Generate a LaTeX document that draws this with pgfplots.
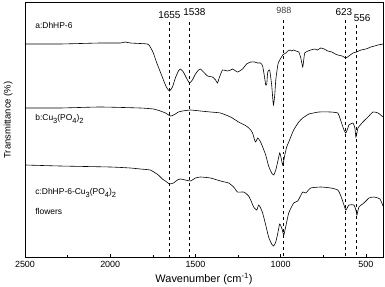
\documentclass[border=0pt]{standalone}
\usepackage{fontspec}
\setmainfont{Liberation Sans}
\usepackage{pgfplots}
\pgfplotsset{compat=1.18}
\newcommand\sub[1]{\raisebox{-0.3em}{\fontsize{7.5}{8}\selectfont #1}}
\begin{document}
\begin{tikzpicture}
\begin{axis}[
 at={(0,0)}, anchor=south west,
 scale only axis, width=358bp, height=255bp,
 x dir=reverse, xmin=400, xmax=2500,
 y dir=reverse, ymin=2, ymax=257,
 xtick={500,1000,1500,2000,2500}, minor xtick={750,1250,1750,2250},
 ytick=\empty,
 xtick pos=lower,
 tick align=inside,
 major tick length=3bp, minor tick length=2bp,
 tick style={black, line width=0.5pt},
 axis line style={line width=0.6pt},
 ticklabel style={font=\fontsize{9}{10}\selectfont},
 xticklabel style={yshift=-1bp},
 /pgf/number format/assume math mode=true,
 /pgf/number format/1000 sep={},
 xlabel={Wavenumber (cm\textsuperscript{-1})},
 xlabel style={font=\fontsize{11}{13}\selectfont, yshift=1bp},
 ylabel={Transmittance (\%)},
 ylabel style={font=\fontsize{9.5}{11}\selectfont, at={(axis description cs:-0.047,0.537)}, anchor=center},
 every axis plot/.append style={line width=0.6pt, black},
]
% curve a
\addplot[smooth, tension=0.3] coordinates {
(2500,44)(2294,44)(2059,43)(1941,43)(1912,42)(1882,43)(1782,44)(1765,47)(1747,53)(1729,62)(1706,72)(1688,80)(1671,87)(1653,91)(1635,87)(1618,78)(1600,71)(1588,69)(1571,72)(1553,78)(1535,83)(1518,80)(1500,74)(1482,70)(1471,69)(1453,72)(1429,76)(1400,77)(1382,80)(1371,83)(1359,77)(1341,70)(1312,71)(1294,70)(1282,69)(1253,72)(1224,69)(1200,64)(1176,62)(1153,62)(1135,63)(1118,63)(1106,66)(1094,78)(1088,85)(1082,84)(1076,72)(1065,70)(1053,85)(1043,105)(1035,95)(1029,80)(1018,66)(1012,62)(988,55)(970,53)(959,51)(945,50)(935,51)(924,50)(910,51)(894,52)(882,58)(871,67)(865,60)(859,53)(840,51)(824,50)(800,49)(785,50)(765,48)(745,49)(724,51)(700,52)(680,54)(665,55)(640,56)(618,58)(600,56)(576,53)(555,52)(529,50)(500,49)(471,47)(450,46)(429,45)(400,44)
};
% curve b
\addplot[smooth, tension=0.3] coordinates {
(2500,108)(2294,108)(2059,107)(1824,108)(1747,109)(1706,111)(1676,113)(1647,116)(1629,115)(1618,114)(1600,112)(1576,111)(1529,110)(1471,111)(1412,112)(1353,113)(1294,117)(1247,122)(1212,125)(1194,127)(1176,130)(1165,133)(1153,140)(1147,142)(1135,138)(1129,139)(1118,142)(1106,147)(1088,155)(1071,166)(1053,173)(1041,175)(1029,170)(1018,162)(1006,153)(1000,156)(988,165)(976,155)(965,147)(953,142)(924,130)(894,122)(871,118)(853,116)(835,114)(776,112)(706,112)(665,113)(653,118)(641,124)(629,130)(618,133)(606,128)(600,125)(576,123)(565,128)(559,137)(553,133)(547,128)(518,122)(488,117)(459,112)(429,113)(400,117)
};
% curve c
\addplot[smooth, tension=0.3] coordinates {
(2500,165)(2294,166)(2000,167)(1882,168)(1824,169)(1765,170)(1735,173)(1718,175)(1694,179)(1676,181)(1653,184)(1629,183)(1606,180)(1588,179)(1559,180)(1529,181)(1500,178)(1471,177)(1412,178)(1353,181)(1306,183)(1276,187)(1253,192)(1218,192)(1200,194)(1188,196)(1171,202)(1159,207)(1141,210)(1129,205)(1118,208)(1106,213)(1088,225)(1071,237)(1053,244)(1041,246)(1029,242)(1018,234)(1006,224)(994,228)(982,235)(971,227)(953,213)(924,203)(900,201)(871,192)(853,193)(824,188)(765,187)(706,188)(665,190)(647,196)(635,202)(618,210)(600,205)(571,205)(559,210)(553,215)(541,207)(512,203)(482,198)(453,197)(418,199)(400,206)
};
% dashed guide lines
\addplot[dashed, line width=0.5pt] coordinates {(1655,22)(1655,257)};
\addplot[dashed, line width=0.5pt] coordinates {(1538,22)(1538,257)};
\addplot[dashed, line width=0.5pt] coordinates {(988,20)(988,257)};
\addplot[dashed, line width=0.5pt] coordinates {(623,20)(623,257)};
\addplot[dashed, line width=0.5pt] coordinates {(556,25)(556,257)};
% peak labels
\node[font=\fontsize{10}{12}\selectfont] at (axis cs:1653,15) {1655};
\node[font=\fontsize{10}{12}\selectfont] at (axis cs:1506,12) {1538};
\node[font=\fontsize{9}{11}\selectfont, text=black!75] at (axis cs:982,10) {988};
\node[font=\fontsize{10}{12}\selectfont] at (axis cs:629,12) {623};
\node[font=\fontsize{10}{12}\selectfont] at (axis cs:522,18) {556};
% curve labels
\node[anchor=west, font=\fontsize{8.5}{10}\selectfont] at (axis cs:2460,25) {a:DhHP-6};
\node[anchor=west, font=\fontsize{8.5}{10}\selectfont] at (axis cs:2460,119) {b:Cu\sub{3}(PO\sub{4})\sub{2}};
\node[anchor=west, font=\fontsize{8.5}{10}\selectfont] at (axis cs:2460,193) {c:DhHP-6-Cu\sub{3}(PO\sub{4})\sub{2}};
\node[anchor=west, font=\fontsize{8.5}{10}\selectfont] at (axis cs:2460,211) {flowers};
\end{axis}
\pgfresetboundingbox
\path[use as bounding box] (-25bp,-30bp) rectangle (360bp,257bp);
\end{tikzpicture}
\end{document}
